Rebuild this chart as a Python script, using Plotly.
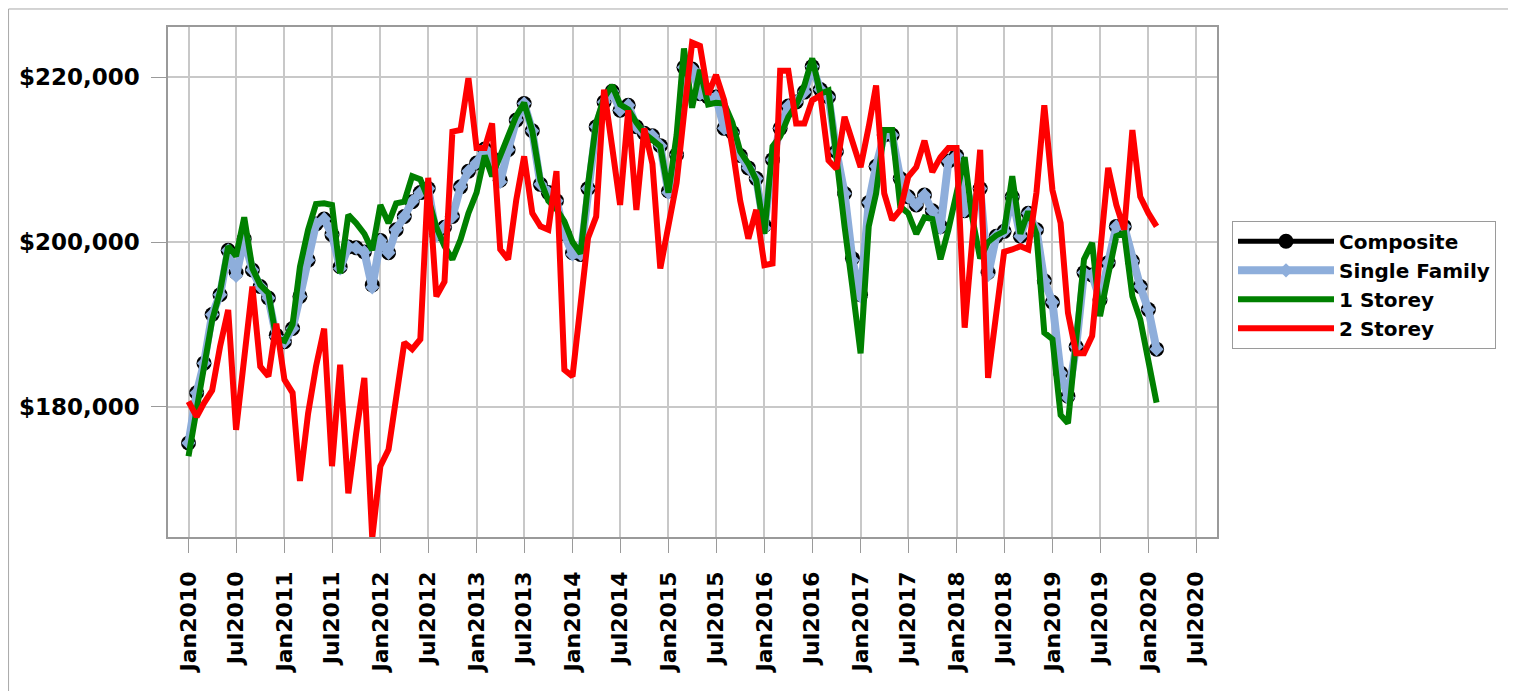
import pandas as pd
import plotly.graph_objects as go

months = pd.date_range("2010-01-01", periods=122, freq="MS")

composite = [175600, 181700, 185300, 191200, 193600, 199000, 196300, 200400, 196600, 194600,
             193200, 188700, 187900, 189500, 193400, 197800, 202200, 202800, 200900, 197000,
             199400, 199300, 198800, 194800, 200200, 198700, 201500, 203100, 204900, 206000,
             206500, 201000, 201800, 203100, 206700, 208600, 209600, 211300, 210200, 207500,
             211200, 214800, 216800, 213500, 207000, 206000, 205000, 201000, 198700, 198500,
             206500, 214000, 217000, 218300, 216000, 216600, 214000, 213200, 212900, 211700,
             206200, 210600, 221200, 221000, 218000, 217600, 217600, 213800, 213300, 210500,
             209000, 207700, 202000, 210000, 213800, 216500, 217000, 218200, 221300, 218500,
             217600, 211000, 205900, 198000, 193600, 204800, 209200, 213000, 213000, 207700,
             205500, 204500, 205700, 203800, 201900, 209800, 210500, 203800, 204500, 206500,
             196300, 200700, 201300, 205500, 200700, 203500, 201500, 195300, 192700, 184100,
             181300, 187300, 196300, 196000, 193000, 197500, 201900, 201900, 197700, 194600,
             191800, 187000]

single_family = [175600, 181700, 185300, 191200, 193600, 199000, 195900, 200400, 196600, 194600,
                 193200, 188500, 187900, 189500, 193400, 197800, 202200, 202800, 200900, 196800,
                 199400, 199300, 198800, 194500, 200200, 198700, 201500, 203100, 204900, 206000,
                 206500, 200800, 201800, 203100, 206700, 208600, 209600, 211300, 210200, 207300,
                 211200, 214800, 216800, 213500, 207000, 206000, 205000, 201000, 198500, 198500,
                 206500, 214000, 217000, 218300, 216000, 216600, 214000, 213200, 212900, 211700,
                 206000, 210600, 221200, 221000, 218000, 217600, 217600, 213800, 213300, 210500,
                 209000, 207700, 201700, 210000, 213800, 216500, 217000, 218200, 221300, 218500,
                 217600, 211000, 205900, 197800, 193400, 204800, 209200, 213000, 213000, 207700,
                 205500, 204500, 205700, 203800, 201700, 209800, 210500, 203800, 204500, 206500,
                 196000, 200700, 201300, 205500, 200700, 203500, 201500, 195300, 192700, 184100,
                 181100, 187300, 196300, 196000, 193000, 197500, 201900, 201900, 197700, 194600,
                 191800, 187000]

one_storey = [174000, 179500, 185000, 190500, 194000, 199500, 198300, 203000, 196800, 194800,
              193800, 188300, 188000, 190000, 197000, 201500, 204600, 204700, 204500, 196200,
              203300, 202300, 201000, 199000, 204500, 202300, 204700, 204900, 208000, 207600,
              205300, 201800, 199500, 197900, 200300, 203500, 206000, 210500, 208000, 210500,
              213000, 215300, 216900, 213500, 207500, 205000, 204000, 202500, 200000, 198600,
              207000, 214500, 217500, 219000, 216700, 216100, 214500, 213200, 212400, 211600,
              206000, 213000, 223500, 216300, 220900, 216700, 216900, 216800, 214500, 211000,
              209500, 207500, 201000, 211600, 212800, 215200, 216600, 219000, 222300, 218000,
              218400, 209500, 201900, 194500, 186500, 201900, 205900, 213600, 213600, 204300,
              203500, 201000, 203000, 202800, 197900, 201500, 206000, 210300, 203100, 198000,
              200000, 200800, 201300, 208000, 201000, 203700, 201000, 189000, 188200, 179000,
              178000, 188500, 197900, 199900, 191000, 196000, 200700, 201100, 193400, 190600,
              185500, 180500]

two_storey = [180650, 178800, 180450, 182000, 187300, 191750, 177200, 185700, 194600, 184900,
              183700, 190100, 183300, 181700, 171000, 179200, 184900, 189500, 172800, 185100,
              169500, 176800, 183500, 164100, 172800, 174800, 181000, 187800, 187000, 188200,
              207800, 193400, 195200, 213400, 213600, 219900, 211400, 211400, 214400, 199100,
              197900, 205100, 210400, 203500, 201900, 201500, 208600, 184500, 183700, 192000,
              200500, 203100, 218500, 211500, 204500, 216000, 203900, 213800, 209500, 196800,
              202000, 207200, 215500, 224200, 223800, 217900, 220300, 217200, 211500, 205000,
              200400, 203900, 197200, 197400, 220800, 220800, 214400, 214400, 217200, 217800,
              209900, 208900, 215200, 212000, 209100, 214000, 219000, 205900, 202700, 203900,
              207900, 209100, 212300, 208500, 210300, 211400, 211400, 189600, 200500, 211200,
              183500, 192000, 198800, 199100, 199500, 199100, 206000, 216600, 206300, 202300,
              191400, 186500, 186500, 188600, 199000, 209000, 204500, 201500, 213600, 205500,
              203500, 201900]

tick_dates = [f"{y}-{m:02d}-01" for y in range(2010, 2021) for m in (1, 7)]
tick_labels = [f"{'Jan' if m == 1 else 'Jul'}{y}" for y in range(2010, 2021) for m in (1, 7)]
y_ticks = [180000, 200000, 220000]

FONT = "DejaVu Sans"
GRID = "#C8C8C8"
FRAME = "#9A9A9A"

fig = go.Figure()
fig.add_trace(go.Scatter(x=months, y=composite, name="Composite", mode="lines+markers",
                         line=dict(color="black", width=5),
                         marker=dict(symbol="circle", size=15, color="black")))
fig.add_trace(go.Scatter(x=months, y=single_family, name="Single Family", mode="lines+markers",
                         line=dict(color="#8EAEDB", width=8),
                         marker=dict(symbol="diamond", size=11, color="#8EAEDB")))
fig.add_trace(go.Scatter(x=months, y=one_storey, name="1 Storey", mode="lines",
                         line=dict(color="#008000", width=6)))
fig.add_trace(go.Scatter(x=months, y=two_storey, name="2 Storey", mode="lines",
                         line=dict(color="#FF0000", width=6)))

# page has an 8px body margin, so the figure is 8px smaller and margins are shifted
fig.update_layout(
    width=1508, height=683,
    margin=dict(l=160, r=299, t=19, b=154),
    paper_bgcolor="white", plot_bgcolor="white",
    font=dict(family=FONT, color="black"),
    showlegend=True,
    legend=dict(x=1.0143, y=0.62, xanchor="left", yanchor="top",
                bgcolor="white", bordercolor=FRAME, borderwidth=1,
                font=dict(family=FONT, size=20, color="black", weight="bold"),
                itemwidth=96, tracegroupgap=0),
    shapes=[dict(type="rect", xref="paper", yref="paper",
                 x0=-0.1520, x1=1.2831, y0=-0.35, y1=1.0353,
                 line=dict(color="#A8A8A8", width=1), fillcolor="rgba(0,0,0,0)", layer="below")],
)

fig.update_xaxes(
    type="date", range=["2009-10-15", "2020-09-18"],
    tickmode="array", tickvals=tick_dates, ticktext=tick_labels,
    tickangle=-90, tickfont=dict(family=FONT, size=22, color="black", weight="bold"),
    ticks="outside", ticklen=14, tickcolor=FRAME, tickwidth=1,
    showgrid=True, gridcolor=GRID, gridwidth=1.5,
    showline=True, linecolor=FRAME, linewidth=1.5, mirror=True,
    ticklabelstandoff=10, zeroline=False,
)
fig.update_yaxes(
    range=[164200, 226100],
    tickmode="array", tickvals=y_ticks, tickformat="$,.0f",
    tickfont=dict(family=FONT, size=23, color="black", weight="bold"),
    ticks="outside", ticklen=15, tickcolor=FRAME, tickwidth=1,
    showgrid=True, gridcolor=GRID, gridwidth=1.5,
    showline=True, linecolor=FRAME, linewidth=1.5, mirror=True,
    ticklabelstandoff=7, zeroline=False,
)

fig.write_html("out.html")
